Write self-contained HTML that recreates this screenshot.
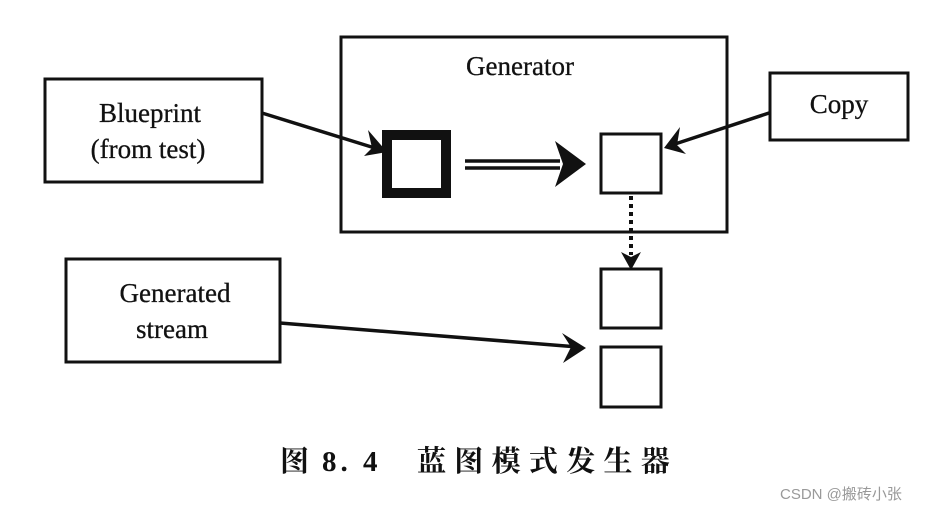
<!DOCTYPE html>
<html><head><meta charset="utf-8"><style>
html,body{margin:0;padding:0;background:#fff;}
body{width:931px;height:511px;overflow:hidden;position:relative;}
svg{position:absolute;left:0;top:0;}
</style></head><body>
<svg width="931" height="511" viewBox="0 0 931 511" xmlns="http://www.w3.org/2000/svg">
<g fill="none" stroke="#111" stroke-width="3">
<rect x="341" y="37" width="386" height="195"/>
<rect x="45" y="79" width="217" height="103"/>
<rect x="770" y="73" width="138" height="67"/>
<rect x="66" y="259" width="214" height="103"/>
<rect x="601" y="134" width="60" height="59"/>
<rect x="601" y="269" width="60" height="59"/>
<rect x="601" y="347" width="60" height="60"/>
</g>
<rect x="387" y="135" width="59" height="58" fill="none" stroke="#111" stroke-width="10"/>
<g stroke="#111" stroke-width="3.5" fill="none">
<line x1="262" y1="113" x2="378" y2="149"/>
<line x1="769" y1="113" x2="672" y2="145"/>
<line x1="280" y1="323" x2="578" y2="347"/>
<line x1="465" y1="161" x2="560" y2="161"/>
<line x1="465" y1="168" x2="560" y2="168"/>
</g>
<line x1="631" y1="196" x2="631" y2="255" stroke="#111" stroke-width="4" stroke-dasharray="4,4"/>
<g fill="#111">
<polygon points="387,152 364,156 372,148 368,130"/>
<polygon points="664,148 686,154 677,145 680,127"/>
<polygon points="586,348 563,363 571,347 562,333"/>
<polygon points="586,164 555,141 563,164 555,187"/>
<polygon points="631,270 621,252 631,257 641,252"/>
</g>
<g font-family="'Liberation Serif', serif" font-size="27" fill="#111" text-anchor="middle" stroke="#111" stroke-width="0.3">
<text x="520" y="75">Generator</text>
<text x="150" y="122">Blueprint</text>
<text x="148" y="158">(from test)</text>
<text x="839" y="113">Copy</text>
<text x="175" y="302">Generated</text>
<text x="172" y="338">stream</text>
</g>
<text x="280" y="471" font-family="'Liberation Serif','Noto Serif CJK SC',serif" font-weight="bold" font-size="29" fill="#111">图</text>
<text x="322" y="471" font-family="'Liberation Serif',serif" font-weight="bold" font-size="29" fill="#111" letter-spacing="4">8. 4</text>
<text x="417" y="471" font-family="'Noto Serif CJK SC',serif" font-weight="bold" font-size="29" fill="#111" letter-spacing="8.3">蓝图模式发生器</text>
<text x="780" y="499" font-family="'Liberation Sans','Noto Sans CJK SC',sans-serif" font-size="15" fill="#999">CSDN @搬砖小张</text>
</svg>
</body></html>
